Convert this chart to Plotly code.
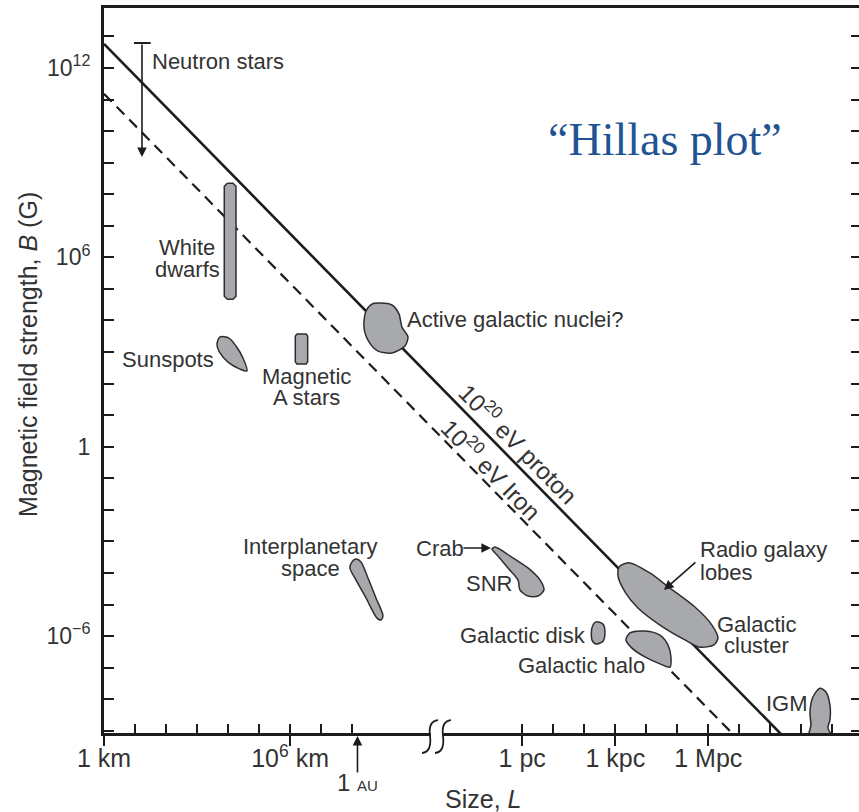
import plotly.graph_objects as go

# Hillas plot - sizes L in log10(km), fields B in log10(Gauss)

# 10^20 eV limits (B * L = const)
proton_logL = [0.0, 22.0]
proton_logB = [12.76, -9.27]
iron_logL = [0.0, 20.5]
iron_logB = [11.18, -9.32]

# neutron stars: range bar with a downward arrow
neutron_logL = 1.225
neutron_logB = [12.79, 9.18]

# outlines of the source regions
wd_logL = [3.98, 4.16, 4.257, 4.257, 4.16, 3.98, 3.879, 3.879]
wd_logB = [8.35, 8.35, 8.25, 4.77, 4.67, 4.67, 4.77, 8.25]

astar_logL = [6.22, 6.52, 6.569, 6.569, 6.52, 6.22, 6.169, 6.169]
astar_logB = [3.57, 3.57, 3.50, 2.69, 2.62, 2.62, 2.69, 3.50]

sunspot_logL = [3.741, 4.031, 4.257, 4.482, 4.611, 4.386, 3.999, 3.741, 3.644]
sunspot_logB = [3.48, 3.44, 3.19, 2.81, 2.40, 2.46, 2.68, 2.97, 3.25]

agn_logL = [8.900, 9.287, 9.513, 9.610, 9.803, 9.707, 9.287, 8.836, 8.546, 8.384, 8.449, 8.642]
agn_logB = [4.55, 4.49, 4.21, 3.79, 3.48, 3.19, 2.97, 3.03, 3.32, 3.79, 4.30, 4.52]

ipl_logL = [7.997, 8.126, 8.288, 8.513, 8.771, 8.997, 8.933, 8.804, 8.449, 8.126, 7.933]
ipl_logB = [-3.65, -3.56, -3.65, -4.16, -4.79, -5.36, -5.49, -5.43, -4.79, -4.22, -3.84]

snr_logL = [12.609, 13.093, 13.673, 14.060, 14.189, 13.996, 13.673, 13.415, 13.351, 13.028, 12.706, 12.512]
snr_logB = [-3.18, -3.46, -3.84, -4.22, -4.54, -4.73, -4.73, -4.54, -4.22, -3.84, -3.46, -3.24]

disk_logL = [15.866, 16.092, 16.156, 16.092, 15.866, 15.737, 15.737]
disk_logB = [-5.55, -5.62, -5.87, -6.16, -6.25, -6.12, -5.74]

halo_logL = [16.962, 17.446, 17.930, 18.188, 18.285, 18.252, 17.930, 17.446, 17.027, 16.833]
halo_logB = [-5.90, -5.84, -5.97, -6.28, -6.66, -6.98, -6.88, -6.66, -6.38, -6.12]

lobes_logL = [16.962, 17.607, 18.252, 19.058, 19.607, 19.800, 19.671, 19.220, 18.736, 17.930,
              17.220, 16.801, 16.575, 16.640]
lobes_logB = [-3.68, -4.00, -4.48, -5.08, -5.65, -6.06, -6.28, -6.35, -6.12, -5.65,
              -5.11, -4.60, -4.07, -3.78]

igm_logL = [22.735, 22.799, 22.767, 22.864, 23.089, 23.283, 23.412, 23.412, 23.347, 23.476]
igm_logB = [-9.2, -8.82, -8.41, -7.93, -7.65, -7.77, -8.18, -8.66, -8.91, -9.2]

# axis ticks
PC = 13.489  # log10 of 1 pc in km
x_major = [0, 6, PC, PC + 3, PC + 6]
x_major_text = ["1 km", "10<sup>6</sup> km", "1 pc", "1 kpc", "1 Mpc"]
x_minor = list(range(0, 9)) + [PC + k for k in range(0, 11)]
y_decades = list(range(-9, 14))
y_major = [12, 6, 0, -6]
y_major_text = ["10<sup>12</sup>", "10<sup>6</sup>", "1", "10<sup>\u22126</sup>"]
AU = 8.175  # log10 of 1 AU in km

X_RANGE = [0, 24.35]
Y_RANGE = [-9.07, 13.90]

INK = "#1c1c1c"
TEXT = "#333333"
FILL = "#a8a9ac"
SANS = "Liberation Sans, Arial, sans-serif"


def exp10(vals):
    return [10 ** v for v in vals]


def add_region(fig, lx, lb, smooth=True):
    # close the outline by repeating the first point
    lx = list(lx) + [lx[0]]
    lb = list(lb) + [lb[0]]
    fig.add_trace(go.Scatter(
        x=exp10(lx), y=exp10(lb), mode="lines", fill="toself",
        fillcolor=FILL,
        line=dict(color="#2e2e2e", width=1.5, shape="spline" if smooth else "linear",
                  smoothing=0.8),
        hoverinfo="skip",
    ))


def label(text, lx, lb, anchor="center", size=22, angle=0, color=TEXT, family=SANS):
    return dict(x=lx, y=lb, xref="x", yref="y", text=text, showarrow=False,
                xanchor=anchor, yanchor="middle", textangle=angle,
                font=dict(family=family, size=size, color=color))


def arrow(x, y, ax, ay):
    return dict(x=x, y=y, ax=ax, ay=ay, xref="x", yref="y", axref="x", ayref="y",
                text="", showarrow=True, arrowhead=2, arrowsize=1.2, arrowwidth=1.6,
                arrowcolor=INK, standoff=0, startstandoff=0)


fig = go.Figure()

# Hillas lines
fig.add_trace(go.Scatter(x=exp10(proton_logL), y=exp10(proton_logB), mode="lines",
                         line=dict(color=INK, width=2.6), hoverinfo="skip"))
fig.add_trace(go.Scatter(x=exp10(iron_logL), y=exp10(iron_logB), mode="lines",
                         line=dict(color=INK, width=2.2, dash="11px,7px"), hoverinfo="skip"))

# neutron star cap
fig.add_trace(go.Scatter(x=exp10([neutron_logL - 0.26, neutron_logL + 0.28]),
                         y=exp10([neutron_logB[0], neutron_logB[0]]), mode="lines",
                         line=dict(color=INK, width=2), hoverinfo="skip"))

add_region(fig, wd_logL, wd_logB, smooth=False)
add_region(fig, astar_logL, astar_logB, smooth=False)
add_region(fig, sunspot_logL, sunspot_logB)
add_region(fig, agn_logL, agn_logB)
add_region(fig, ipl_logL, ipl_logB)
add_region(fig, snr_logL, snr_logB)
add_region(fig, disk_logL, disk_logB)
add_region(fig, halo_logL, halo_logB)
add_region(fig, lobes_logL, lobes_logB)
add_region(fig, igm_logL, igm_logB)

# empty traces so the tick-only overlay axes get their own subplots
for xa, ya in [("x2", "y"), ("x", "y2"), ("x", "y3")]:
    fig.add_trace(go.Scatter(x=[None], y=[None], xaxis=xa, yaxis=ya, mode="lines",
                             hoverinfo="skip"))

annotations = [
    label("Neutron stars", 1.483, 12.19, "left"),
    label("White", 2.677, 6.30),
    label("dwarfs", 2.677, 5.60),
    label("Sunspots", 2.064, 2.75),
    label("Magnetic", 6.546, 2.23),
    label("A stars", 6.546, 1.56),
    label("Active galactic nuclei?", 9.707, 4.02, "left"),
    label("Interplanetary", 6.675, -3.17),
    label("space", 6.675, -3.85),
    label("Crab", 10.835, -3.21),
    label("SNR", 12.415, -4.32),
    label("Galactic disk", 13.528, -5.97),
    label("Galactic halo", 15.398, -6.92),
    label("Radio galaxy", 19.155, -3.26, "left"),
    label("lobes", 19.155, -3.98, "left"),
    label("Galactic", 21.058, -5.63),
    label("cluster", 21.058, -6.30),
    label("IGM", 22.025, -8.12),
    label("10<sup>20</sup> eV proton", 13.383, 0.12, angle=45.5, size=24),
    label("10<sup>20</sup> eV Iron", 12.512, -0.71, angle=45.5, size=24),
    label("\u201cHillas plot\u201d", 18.09, 9.72, size=46, color="#1f5493",
          family="Liberation Serif, Times New Roman, serif"),
    arrow(neutron_logL, neutron_logB[1], neutron_logL, neutron_logB[0]),
    arrow(12.48, -3.21, 11.545, -3.21),
    arrow(18.059, -4.54, 19.123, -3.62),
    # 1 AU marker below the axis
    dict(x=AU, y=-0.004, xref="x", yref="paper", ax=0, ay=38, text="", showarrow=True,
         arrowhead=2, arrowsize=1.2, arrowwidth=1.6, arrowcolor=INK),
    dict(x=AU, y=-0.068, xref="x", yref="paper", showarrow=False, xanchor="center",
         yanchor="middle",
         text="1 <span style='font-size:15px'>AU</span>",
         font=dict(family=SANS, size=24, color=TEXT)),
    # axis titles
    dict(x=-0.1007, y=0.5228, xref="paper", yref="paper", showarrow=False, textangle=-90,
         xanchor="center", yanchor="middle",
         text="Magnetic field strength, <i>B</i> (G)",
         font=dict(family=SANS, size=25, color=TEXT)),
    dict(x=0.502, y=-0.091, xref="paper", yref="paper", showarrow=False,
         xanchor="center", yanchor="middle",
         text="Size, <i>L</i>", font=dict(family=SANS, size=25, color=TEXT)),
]

# plot area in page pixels
AREA_LEFT, AREA_TOP, AREA_W, AREA_H = 104, 8, 755, 725


def px_x(p):
    return (p - AREA_LEFT) / AREA_W


def px_y(p):
    return (AREA_TOP + AREA_H - p) / AREA_H


def squiggle(dx):
    pts = [(422 + dx, 753), (432 + dx, 752), (430 + dx, 736), (428 + dx, 721), (438 + dx, 720)]
    p = [(px_x(a), px_y(b)) for a, b in pts]
    return ("M %.4f,%.4f Q %.4f,%.4f %.4f,%.4f Q %.4f,%.4f %.4f,%.4f"
            % (p[0] + p[1] + p[2] + p[3] + p[4]))


# axis break
shapes = [
    dict(type="rect", xref="paper", yref="paper", x0=px_x(431), x1=px_x(442),
         y0=px_y(737), y1=px_y(729), fillcolor="white", line=dict(width=0), layer="above"),
    dict(type="path", xref="paper", yref="paper", path=squiggle(0),
         line=dict(color=INK, width=1.8), layer="above"),
    dict(type="path", xref="paper", yref="paper", path=squiggle(13),
         line=dict(color=INK, width=1.8), layer="above"),
]

tick_style = dict(tickcolor=INK, tickwidth=2, showgrid=False, zeroline=False)

fig.update_layout(
    width=859, height=812,
    margin=dict(l=104, r=0, t=8, b=79),
    template="none",
    paper_bgcolor="white", plot_bgcolor="white",
    showlegend=False,
    annotations=annotations,
    shapes=shapes,
    xaxis=dict(type="log", range=X_RANGE, tickmode="array",
               tickvals=exp10(x_major), ticktext=x_major_text,
               ticks="outside", ticklen=10, ticklabelstandoff=-9,
               showline=True, linewidth=3, linecolor=INK, mirror=True,
               tickfont=dict(family=SANS, size=25, color=TEXT), **tick_style),
    xaxis2=dict(type="log", range=X_RANGE, overlaying="x", anchor="y", side="bottom",
                tickmode="array", tickvals=exp10(x_minor), ticks="inside", ticklen=9,
                showticklabels=False, showline=False, **tick_style),
    yaxis=dict(type="log", range=Y_RANGE, tickmode="array",
               tickvals=exp10(y_major), ticktext=y_major_text,
               ticks="inside", ticklen=10, ticklabelstandoff=6,
               showline=True, linewidth=3, linecolor=INK,
               tickfont=dict(family=SANS, size=23, color=TEXT), **tick_style),
    yaxis2=dict(type="log", range=Y_RANGE, overlaying="y", anchor="x", side="right",
                tickmode="array", tickvals=exp10(y_decades), ticks="inside", ticklen=8,
                showticklabels=False, showline=False, **tick_style),
    yaxis3=dict(type="log", range=Y_RANGE, overlaying="y", anchor="x", side="left",
                tickmode="array", tickvals=exp10(y_decades), ticks="inside", ticklen=10,
                showticklabels=False, showline=False, **tick_style),
)

# the figure fills the whole window, so drop the page's default body margin
fig.write_html("out.html",
               config={"displayModeBar": False},
               post_script="document.body.style.margin='0';"
                           "document.documentElement.style.overflow='hidden';")
